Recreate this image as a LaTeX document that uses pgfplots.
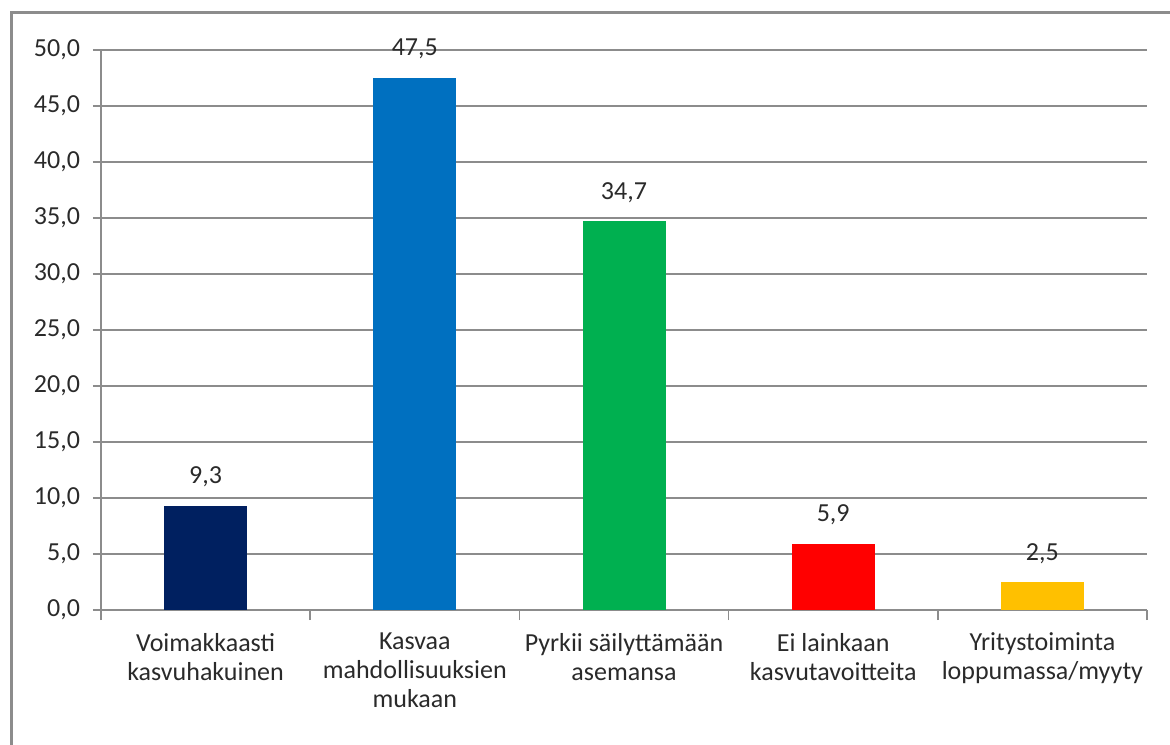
\documentclass[border=0pt]{standalone}
\usepackage{pgfplots}
\pgfplotsset{compat=1.18}
\usepackage{fontspec}
\setmainfont{Carlito}
\definecolor{c1}{HTML}{002060}
\definecolor{c2}{HTML}{0070C0}
\definecolor{c3}{HTML}{00B050}
\definecolor{c4}{HTML}{FF0000}
\definecolor{c5}{HTML}{FFC000}
\definecolor{txt}{HTML}{2A2A2A}
\definecolor{gridc}{HTML}{8C8C8C}
\begin{document}
\begin{tikzpicture}
\path[use as bounding box] (0,0) rectangle (585pt,372pt);
\draw[gridc, line width=1.5pt] (5.5pt,-5pt) -- (5.5pt,365.5pt) -- (600pt,365.5pt);
\begin{axis}[
  at={(50.5pt,67pt)}, anchor=south west,
  scale only axis, width=523pt, height=280pt,
  xmin=-0.5, xmax=4.5, ymin=0, ymax=50,
  ytick={0,5,...,50},
  xtick={0,1,2,3,4},
  xticklabels={{Voimakkaasti\\kasvuhakuinen},{Kasvaa\\mahdollisuuksien\\mukaan},{Pyrkii säilyttämään\\asemansa},{Ei lainkaan\\kasvutavoitteita},{Yritystoiminta\\loppumassa/myyty}},
  minor xtick={-0.5,0.5,1.5,2.5,3.5,4.5},
  major x tick style={draw=none},
  minor x tick style={draw=gridc, line width=0.8pt},
  major y tick style={draw=gridc, line width=0.8pt},
  tick align=outside, major tick length=4pt, minor tick length=5pt,
  axis x line*=bottom, axis y line*=left,
  axis line style={draw=gridc, line width=0.8pt, -},
  ymajorgrids, major grid style={draw=gridc, line width=0.8pt},
  yticklabel style={font=\fontsize{13}{15}\selectfont, text=txt, xshift=-3pt},
  xticklabel style={font=\fontsize{13}{14.5}\selectfont, text=txt, align=center, yshift=-4pt},
  /pgf/number format/assume math mode=true,
  /pgf/number format/.cd, use comma, fixed, fixed zerofill, precision=1, 1000 sep={},
  /pgfplots/.cd,
  ybar, bar width=41.5pt, bar shift=0pt,
  nodes near coords,
  every node near coord/.append style={font=\fontsize{13}{15}\selectfont, text=txt, anchor=base, inner sep=0pt, yshift=11pt},
  clip=false,
]
\addplot[fill=c1, draw=none] coordinates {(0,9.3)};
\addplot[fill=c2, draw=none] coordinates {(1,47.5)};
\addplot[fill=c3, draw=none] coordinates {(2,34.7)};
\addplot[fill=c4, draw=none] coordinates {(3,5.9)};
\addplot[fill=c5, draw=none] coordinates {(4,2.5)};
\end{axis}
\end{tikzpicture}
\end{document}
